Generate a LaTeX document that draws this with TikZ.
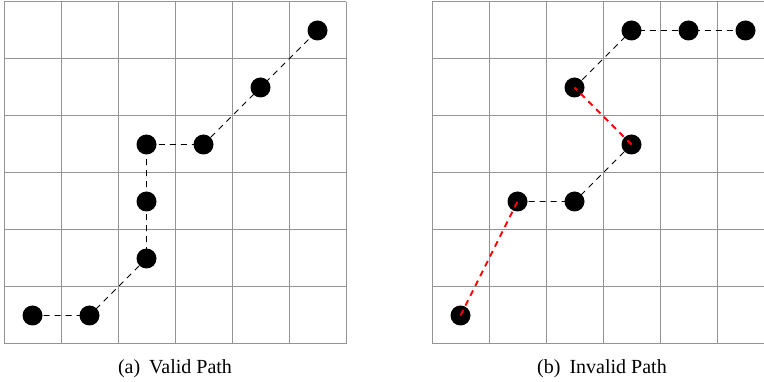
\documentclass[tikz,border=0pt]{standalone}
\usepackage{fontspec}
\setmainfont{Liberation Serif}
\tikzset{
  gridline/.style={draw=black!42, line width=1pt},
  dot/.style={circle, fill=black, minimum size=20pt, inner sep=0pt},
  okedge/.style={draw=black, line width=0.8pt, dash pattern=on 6pt off 5pt},
  badedge/.style={draw=red, line width=2pt, dash pattern=on 6pt off 5pt},
  caption/.style={font=\fontsize{20}{24}\selectfont, inner sep=0pt}
}
\begin{document}
\begin{tikzpicture}[x=1pt,y=-1pt]
\useasboundingbox (0,0) rectangle (764,382);
\begin{scope}
\clip (0,0) rectangle (764,382);
% grids
\foreach \ox in {4,432}{
  \foreach \i in {0,...,6}{
    \draw[gridline] ({\ox+57*\i},2) -- ({\ox+57*\i},344);
    \draw[gridline] (\ox,{2+57*\i}) -- ({\ox+342},{2+57*\i});
  }
}
% left path (valid)
\node[dot] (a1) at (32.5,315.5) {};
\node[dot] (a2) at (89.5,315.5) {};
\node[dot] (a3) at (146.5,258.5) {};
\node[dot] (a4) at (146.5,201.5) {};
\node[dot] (a5) at (146.5,144.5) {};
\node[dot] (a6) at (203.5,144.5) {};
\node[dot] (a7) at (260.5,87.5) {};
\node[dot] (a8) at (317.5,30.5) {};
\draw[okedge] (a1.center) -- (a2.center) -- (a3.center) -- (a4.center) -- (a5.center) -- (a6.center) -- (a7.center) -- (a8.center);
% right path (invalid)
\node[dot] (b1) at (460.5,315.5) {};
\node[dot] (b2) at (517.5,201.5) {};
\node[dot] (b3) at (574.5,201.5) {};
\node[dot] (b4) at (631.5,144.5) {};
\node[dot] (b5) at (574.5,87.5) {};
\node[dot] (b6) at (631.5,30.5) {};
\node[dot] (b7) at (688.5,30.5) {};
\node[dot] (b8) at (745.5,30.5) {};
\draw[okedge] (b2.center) -- (b3.center) -- (b4.center);
\draw[okedge] (b5.center) -- (b6.center) -- (b7.center) -- (b8.center);
\draw[badedge] (b1.center) -- (b2.center);
\draw[badedge] (b4.center) -- (b5.center);
\end{scope}
% captions
\node[caption] (ca) at (175,369) {(a)\hspace{0.45em}Valid Path};
\node[caption] (cb) at (602,369) {(b)\hspace{0.45em}Invalid Path};
\end{tikzpicture}
\end{document}
